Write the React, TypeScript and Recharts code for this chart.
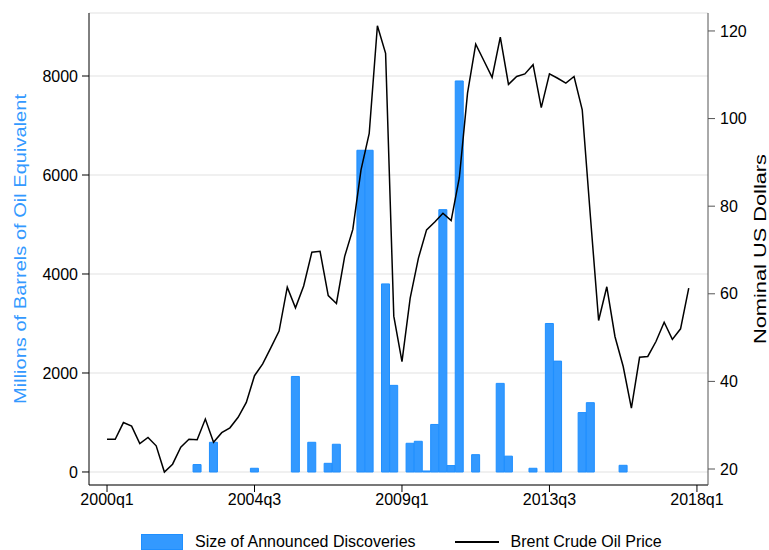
import React from "react";
import {
  Bar,
  CartesianGrid,
  ComposedChart,
  Label,
  Legend,
  Line,
  XAxis,
  YAxis,
} from "recharts";

// quarter index 0 = 2000q1
const quarters = Array.from({ length: 72 }, (_, i) => `${2000 + Math.floor(i / 4)}q${(i % 4) + 1}`);

const tickPositions = [0, 18, 36, 54, 72];
const tickLabels = ["2000q1", "2004q3", "2009q1", "2013q3", "2018q1"];

// millions of barrels of oil equivalent, per quarter
const discoveries = [
  null, null, null, null, null, null, null, null,
  null, null, null, 150, null, 600, null, null,
  null, null, 75, null, null, null, null, 1930,
  null, 600, null, 175, 560, null, null, 6500,
  6500, null, 3800, 1750, null, 580, 620, 20,
  960, 5300, 130, 7900, null, 350, null, null,
  1790, 320, null, null, 75, null, 3000, 2240,
  null, null, 1200, 1400, null, null, null, 135,
  null, null, null, null, null, null, null, null,
];

// brent crude, nominal US dollars
const brent = [
  26.8, 26.8, 30.6, 29.8, 25.8, 27.2, 25.3, 19.3,
  21.1, 25.0, 26.8, 26.7, 31.4, 26.1, 28.3, 29.4,
  31.8, 35.2, 41.3, 44.0, 47.7, 51.5, 61.5, 56.8,
  61.8, 69.5, 69.7, 59.6, 57.8, 68.5, 74.7, 88.3,
  96.6, 121.2, 114.9, 54.9, 44.5, 59.0, 68.1, 74.6,
  76.4, 78.4, 76.7, 86.5, 105.8, 117.0, 113.2, 109.4,
  118.6, 107.8, 109.6, 110.2, 112.3, 102.5, 110.2, 109.2,
  108.1, 109.6, 102.0, 77.6, 53.9, 61.6, 50.2, 43.4,
  33.9, 45.5, 45.7, 49.1, 53.5, 49.6, 52.0, 61.3,
];

const data = quarters.map((label, i) => ({
  q: i,
  label,
  discoveries: discoveries[i],
  price: brent[i],
}));

const FONT = "'Liberation Sans', Arial, sans-serif";
const BLUE = "#3399ff";

function LegendContent() {
  return (
    <div
      style={{
        display: "flex",
        alignItems: "center",
        fontFamily: FONT,
        fontSize: 16,
        color: "#000",
        height: 22,
      }}
    >
      <span style={{ width: 40, height: 14, background: BLUE, border: "1px solid #1f8fff" }} />
      <span style={{ marginLeft: 12 }}>Size of Announced Discoveries</span>
      <span style={{ width: 44, height: 0, borderTop: "2px solid #000", marginLeft: 39 }} />
      <span style={{ marginLeft: 12 }}>Brent Crude Oil Price</span>
    </div>
  );
}

// rotated axis title, stretched to the reference's length
function axisTitle(text: string, dx: number, length: number, color: string) {
  return ({ viewBox }: any) => {
    const x = viewBox.x + dx;
    const y = viewBox.y + viewBox.height / 2;
    return (
      <text
        x={x}
        y={y}
        transform={`rotate(-90 ${x} ${y})`}
        textAnchor="middle"
        dominantBaseline="central"
        fill={color}
        fontSize={17}
        textLength={length}
        lengthAdjust="spacingAndGlyphs"
      >
        {text}
      </text>
    );
  };
}

export default function App() {
  return (
    <div style={{ position: "absolute", left: 0, top: 0, background: "#fff" }}>
      <ComposedChart
        width={769}
        height={550}
        data={data}
        margin={{ top: 13, right: 0, bottom: 0, left: 0 }}
        style={{ fontFamily: FONT }}
      >
        <CartesianGrid yAxisId="left" vertical={false} stroke="#ebebeb" strokeWidth={1.5} />
        <XAxis
          dataKey="q"
          type="number"
          domain={[-2.2, 73.35]}
          allowDataOverflow
          ticks={tickPositions}
          tickFormatter={(v) => tickLabels[tickPositions.indexOf(v)]}
          height={65}
          tickSize={7}
          tickMargin={2}
          stroke="#000"
          tick={{ fill: "#000", fontSize: 16 }}
        />
        <YAxis
          yAxisId="left"
          domain={[-263, 9273]}
          allowDataOverflow
          ticks={[0, 2000, 4000, 6000, 8000]}
          width={89}
          tickSize={7}
          tickMargin={4}
          stroke="#000"
          tick={{ fill: "#000", fontSize: 16 }}
        >
          <Label content={axisTitle("Millions of Barrels of Oil Equivalent", 20, 310, BLUE)} />
        </YAxis>
        <YAxis
          yAxisId="right"
          orientation="right"
          domain={[16.35, 124.1]}
          allowDataOverflow
          ticks={[20, 40, 60, 80, 100, 120]}
          width={61}
          tickSize={7}
          tickMargin={5}
          stroke="#555"
          tick={{ fill: "#000", fontSize: 16 }}
        >
          <Label content={axisTitle("Nominal US Dollars", 52, 190, "#000")} />
        </YAxis>
        <Legend
          verticalAlign="middle"
          layout="horizontal"
          wrapperStyle={{ top: 531, left: 141, width: 560 }}
          content={() => <LegendContent />}
        />
        <Bar
          yAxisId="left"
          dataKey="discoveries"
          name="Size of Announced Discoveries"
          fill={BLUE}
          stroke="#1f8fff"
          strokeWidth={1}
          barSize={8}
          isAnimationActive={false}
        />
        <Line
          yAxisId="right"
          dataKey="price"
          name="Brent Crude Oil Price"
          type="linear"
          stroke="#000"
          strokeWidth={1.5}
          dot={false}
          activeDot={false}
          isAnimationActive={false}
        />
      </ComposedChart>
    </div>
  );
}
